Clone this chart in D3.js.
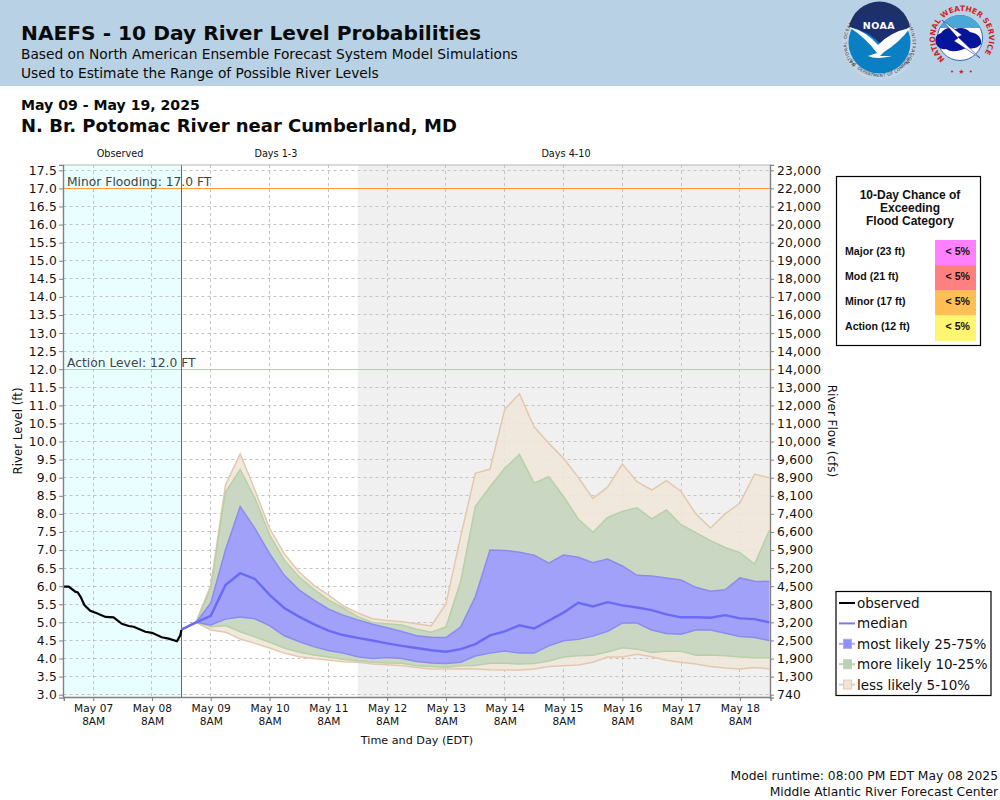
<!DOCTYPE html>
<html><head><meta charset="utf-8">
<script src="https://cdnjs.cloudflare.com/ajax/libs/d3/7.8.5/d3.min.js"></script>
<style>
html,body{margin:0;padding:0;background:#fff}
svg{display:block}
text{font-family:"DejaVu Sans",sans-serif}
.tbl text{font-family:"Liberation Sans",Arial,sans-serif;font-weight:bold;fill:#111}
</style></head><body><svg id="c" width="1000" height="800"></svg>
<script>
// ---- data (river level in ft) ----
const obsHours = [0,2,4.7,5.7,7,8.4,10.8,13.5,17,20.3,23.7,26.5,28.5,33.3,36,40,42.8,46.2,47.6,48];
const observed = [5.99,5.99,5.85,5.83,5.69,5.48,5.32,5.25,5.15,5.14,4.96,4.90,4.88,4.74,4.71,4.59,4.55,4.48,4.65,4.79];
// forecast values are six hours apart, starting at the last observation
const q95 = [4.8,5.0,6.03,8.8,9.66,8.66,7.6,6.9,6.4,6.03,5.76,5.46,5.26,5.1,5.05,5.02,4.96,4.9,5.51,7.37,9.12,9.24,10.89,11.32,10.41,9.95,9.54,9.01,8.43,8.74,9.38,8.89,8.66,8.92,8.62,8.0,7.61,8.0,8.3,9.1,9.0];
const q90 = [4.8,5.0,5.95,8.6,9.23,8.44,7.42,6.72,6.26,5.92,5.62,5.4,5.16,5.0,4.96,4.93,4.81,4.73,4.87,6.13,8.2,8.75,9.26,9.64,8.85,9.03,8.48,7.86,7.49,7.9,8.07,8.17,7.86,8.11,7.7,7.48,7.26,7.07,6.93,6.61,7.54];
const q75 = [4.8,5.0,5.54,7.0,8.2,7.6,6.9,6.3,5.9,5.62,5.37,5.2,5.07,4.95,4.85,4.75,4.63,4.59,4.58,4.87,5.71,7.0,6.99,6.94,6.86,6.64,6.86,6.8,6.65,6.75,6.56,6.3,6.28,6.23,6.17,5.97,5.86,5.9,6.23,6.14,6.13];
const median = [4.8,5.0,5.18,6.03,6.36,6.2,5.76,5.4,5.16,4.95,4.77,4.65,4.57,4.5,4.42,4.35,4.29,4.23,4.19,4.26,4.4,4.64,4.75,4.92,4.83,5.05,5.27,5.54,5.44,5.56,5.47,5.41,5.34,5.22,5.14,5.14,5.13,5.2,5.11,5.09,5.0];
const q25 = [4.8,5.0,4.93,5.09,5.15,5.1,4.91,4.63,4.47,4.33,4.22,4.15,4.05,4.0,4.03,4.0,3.92,3.88,3.86,3.9,4.07,4.15,4.21,4.15,4.15,4.35,4.49,4.53,4.62,4.75,4.98,4.98,4.79,4.69,4.67,4.79,4.79,4.7,4.61,4.58,4.5];
const q10 = [4.8,5.0,4.88,4.91,4.74,4.6,4.45,4.29,4.18,4.1,4.04,3.98,3.94,3.9,3.88,3.87,3.8,3.78,3.76,3.8,3.81,3.87,3.87,3.85,3.86,3.93,4.04,4.08,4.09,4.18,4.3,4.26,4.17,4.2,4.2,4.09,4.1,4.08,4.04,4.02,4.02];
const q05 = [4.8,5.0,4.79,4.73,4.54,4.42,4.29,4.15,4.05,4.0,3.96,3.91,3.9,3.85,3.83,3.8,3.75,3.71,3.71,3.72,3.71,3.69,3.68,3.68,3.71,3.78,3.8,3.82,3.9,4.04,4.04,4.12,4.05,3.95,3.9,3.85,3.78,3.74,3.71,3.75,3.72];
const levelTicks = [17.5,17,16.5,16,15.5,15,14.5,14,13.5,13,12.5,12,11.5,11,10.5,10,9.5,9,8.5,8,7.5,7,6.5,6,5.5,5,4.5,4,3.5,3];
const flowTicks = ["23,000","22,000","21,000","20,000","20,000","19,000","18,000","17,000","16,000","15,000","14,000","14,000","13,000","12,000","11,000","10,000","9,600","8,900","8,100","7,400","6,600","5,900","5,200","4,500","3,800","3,200","2,500","1,900","1,300","740"];
const dayTicks = ["May 07","May 08","May 09","May 10","May 11","May 12","May 13","May 14","May 15","May 16","May 17","May 18"];
const thresholds = [{v:17,label:"Minor Flooding: 17.0 FT",color:"#fb9a3c"},{v:12,label:"Action Level: 12.0 FT",color:"#f2c53d"}];
const floodCats = ["Major (23 ft)","Mod (21 ft)","Minor (17 ft)","Action (12 ft)"];
const floodChance = ["< 5%","< 5%","< 5%","< 5%"];
const floodColors = ["#ff80ff","#ff8080","#ffbf55","#fff570"];
const periods = ["Observed","Days 1-3","Days 4-10"];

// ---- scales ----
const H = 3600e3;
const t0 = Date.UTC(2025,4,6,20);          // May 6 8PM
const tNow = Date.UTC(2025,4,8,20);        // May 8 8PM
const tDay3 = Date.UTC(2025,4,11,20);      // May 11 8PM
const tEnd = Date.UTC(2025,4,18,20,30);
const x = d3.scaleUtc().domain([t0,tEnd]).range([63.8,770.5]);
const y = d3.scaleLinear().domain([2.92,17.65]).range([697.6,164.9]);
const fT = i => tNow + i*6*H;
const snap = v => Math.round(v-.5)+.5;
const svg = d3.select("#c");

// ---- header ----
svg.append("rect").attr("width",1000).attr("height",86).attr("fill","#b9d1e4");
const hdr = [
 ["NAEFS - 10 Day River Level Probabilities",21,40,20.2,"bold"],
 ["Based on North American Ensemble Forecast System Model Simulations",21,59,13.76,"normal"],
 ["Used to Estimate the Range of Possible River Levels",21,78,13.76,"normal"],
 ["May 09 - May 19, 2025",21,110,14.1,"bold"],
 ["N. Br. Potomac River near Cumberland, MD",21,132,18,"bold"]];
hdr.forEach(d=>svg.append("text").attr("x",d[1]).attr("y",d[2]).attr("font-size",d[3]).attr("font-weight",d[4]).attr("fill","#0a0a0a").text(d[0]));

// NOAA logo
const defs = svg.append("defs");
defs.append("path").attr("id","noaaRing").attr("d","M 879.5 75.5 A 33 33 0 1 1 879.6 75.5");
defs.append("path").attr("id","noaaRingB").attr("d","M 845 42.5 A 34.5 34.5 0 0 0 914 42.5");
defs.append("path").attr("id","nwsTop").attr("d","M 945 59 A 27 27 0 1 1 979 59");
const noaa = svg.append("g");
noaa.append("circle").attr("cx",879.5).attr("cy",42.5).attr("r",37.5).attr("fill","#c4d6e6");
noaa.append("circle").attr("cx",879.5).attr("cy",42.5).attr("r",31).attr("fill","#0a7fc4");
noaa.append("path").attr("d","M 849 27 A 31 31 0 0 1 910 27 Q 896 32 884 47 Q 868 30 849 27 Z").attr("fill","#1c2f6e");
noaa.append("path").attr("d","M 849 27 Q 866 31 878 45 Q 890 32 910 28 Q 900 42 884 52 L 880 56 L 892 56 Q 876 60 868 56 L 877 53 Q 866 38 849 27 Z").attr("fill","#fff");
noaa.append("text").attr("x",879).attr("y",28.5).attr("text-anchor","middle").attr("font-size",9.5).attr("font-weight","bold").attr("fill","#fff").attr("letter-spacing",0.5).text("NOAA");
noaa.append("text").attr("font-size",4.4).attr("fill","#333").attr("letter-spacing",0.5).append("textPath").attr("href","#noaaRing").attr("startOffset","13%").text("NATIONAL OCEANIC AND ATMOSPHERIC ADMINISTRATION");
noaa.append("text").attr("font-size",4.2).attr("fill","#333").attr("letter-spacing",0.3).append("textPath").attr("href","#noaaRingB").attr("startOffset","17%").text("U.S. DEPARTMENT OF COMMERCE");
// NWS logo
const nws = svg.append("g");
nws.append("circle").attr("cx",960).attr("cy",38).attr("r",22.5).attr("fill","#fff").attr("stroke","#2a6fb0");
nws.append("path").attr("d","M 940 28 A 22 22 0 0 1 980 28 Z").attr("fill","#4aa8d8");
nws.append("path").attr("d","M 936 44 Q 933 36 941 33 Q 946 26 955 29 Q 964 26 970 32 Q 982 34 981 44 Q 976 50 966 48 Q 953 54 946 49 Q 939 50 936 44 Z").attr("fill","#06149a");
nws.append("path").attr("d","M 942 20 L 962 35 L 958 37 L 980 58 L 954 41 L 958 38 Z").attr("fill","#fff").attr("stroke","#06149a").attr("stroke-width",0.5);
nws.append("text").attr("font-size",7.5).attr("font-family","'Liberation Sans'").attr("font-weight","bold").attr("fill","#d11f25").append("textPath").attr("href","#nwsTop").text("NATIONAL WEATHER SERVICE");
nws.append("text").attr("x",962).attr("y",74).attr("text-anchor","middle").attr("font-size",7).attr("fill","#d11f25").attr("letter-spacing",1).text("• ★ •");

// ---- plot background ----
const yTop = 165, yBot = 697.5;
const xL = snap(x(t0)), xR = snap(x(tEnd));
svg.append("rect").attr("x",xL).attr("y",yTop).attr("width",snap(x(tNow))-xL).attr("height",yBot-yTop).attr("fill","#e9ffff");
svg.append("rect").attr("x",Math.ceil(x(tDay3))).attr("y",yTop).attr("width",xR-Math.ceil(x(tDay3))).attr("height",yBot-yTop).attr("fill","#f0f0f0");
const periodX = [120,276,566];
periods.forEach((p,i)=>svg.append("text").attr("x",periodX[i]).attr("y",157).attr("text-anchor","middle").attr("font-size",9.7).attr("fill","#111").text(p));

// ---- axes and grid ----
const dayTimes = dayTicks.map((d,i)=>Date.UTC(2025,4,7+i,8));
const gridG = svg.append("g").attr("stroke","#c4c4c4").attr("stroke-dasharray","3,3").attr("stroke-width",1);
levelTicks.forEach(v=>gridG.append("line").attr("x1",xL).attr("x2",xR).attr("y1",snap(y(v))).attr("y2",snap(y(v))));
dayTimes.forEach(t=>gridG.append("line").attr("x1",snap(x(t))).attr("x2",snap(x(t))).attr("y1",yTop).attr("y2",yBot));

const leftAxis = d3.axisLeft(y).tickValues(levelTicks).tickFormat(d3.format(".1f")).tickSize(4).tickPadding(2);
const rightAxis = d3.axisRight(y).tickValues(levelTicks).tickFormat((d,i)=>flowTicks[i]).tickSize(4).tickPadding(3);
const bottomAxis = d3.axisBottom(x).tickValues(dayTimes).tickFormat((d,i)=>dayTicks[i]).tickSize(4).tickPadding(3);

// ---- probability bands ----
const area = (lo,hi)=>d3.area().x((d,i)=>x(fT(i))).y0((d,i)=>y(lo[i])).y1((d,i)=>y(hi[i]));
const line = vals=>d3.line().x((d,i)=>x(fT(i))).y((d,i)=>y(vals[i]));
const bands = [
 {lo:q05,hi:q95,fill:"#efe6da",stroke:"#e2c9ad",op:.88},
 {lo:q10,hi:q90,fill:"#c8d6c1",stroke:"#b7d0a8",op:.97},
 {lo:q25,hi:q75,fill:"#9f9ffb",stroke:"#8b8bf2",op:.97}];
bands.forEach(b=>{
  svg.append("path").datum(median).attr("d",area(b.lo,b.hi)).attr("fill",b.fill).attr("fill-opacity",b.op);
  svg.append("path").datum(median).attr("d",line(b.lo)).attr("fill","none").attr("stroke",b.stroke).attr("stroke-width",1.5);
  svg.append("path").datum(median).attr("d",line(b.hi)).attr("fill","none").attr("stroke",b.stroke).attr("stroke-width",1.5);
});

// ---- threshold lines ----
thresholds.forEach(t=>{
  svg.append("line").attr("x1",xL).attr("x2",xR).attr("y1",snap(y(t.v))).attr("y2",snap(y(t.v))).attr("stroke",t.color).attr("stroke-width",1);
  svg.append("text").attr("x",67).attr("y",snap(y(t.v))-2.5).attr("font-size",12.3).attr("fill","#444").text(t.label);
});
// now line
svg.append("line").attr("x1",snap(x(tNow))).attr("x2",snap(x(tNow))).attr("y1",yTop).attr("y2",yBot).attr("stroke","#d43a3a").attr("stroke-width",1);
// median + observed
svg.append("path").datum(median).attr("d",line(median)).attr("fill","none").attr("stroke","#6a6af6").attr("stroke-width",2.4);
svg.append("path").datum(observed).attr("d",d3.line().x((d,i)=>x(t0+obsHours[i]*H)).y(d=>y(d))).attr("fill","none").attr("stroke","#000").attr("stroke-width",2.2);

// frame + axes
svg.append("rect").attr("x",xL).attr("y",yTop).attr("width",xR-xL).attr("height",yBot-yTop).attr("fill","none").attr("stroke","#b5b5b5").attr("stroke-width",1);
function styleAxis(g,size){
  g.selectAll("path").attr("stroke","#808080").attr("stroke-width",1.4);
  g.selectAll("line").attr("stroke","#808080");
  g.selectAll("text").attr("font-family","'DejaVu Sans'").attr("font-size",size).attr("fill","#111").attr("letter-spacing",0.2);
}
svg.append("g").attr("transform",`translate(${xL-.5},0)`).call(leftAxis).call(styleAxis,12.3);
svg.append("g").attr("transform",`translate(${xR-.5},0)`).call(rightAxis).call(styleAxis,12.3);
const bx = svg.append("g").attr("transform",`translate(0,${yBot-.5})`).call(bottomAxis).call(styleAxis,10.6);
bx.selectAll("text").attr("letter-spacing",0.1).each(function(){
  d3.select(this.parentNode).append("text").attr("x",0).attr("y",20.5).attr("dy","0.71em").attr("text-anchor","middle").attr("font-size",10.6).attr("fill","#111").text("8AM");
});

// axis titles
svg.append("text").attr("transform","translate(22,431) rotate(-90)").attr("text-anchor","middle").attr("font-size",11.8).attr("fill","#111").text("River Level (ft)");
svg.append("text").attr("transform","translate(828,431) rotate(90)").attr("text-anchor","middle").attr("font-size",12).attr("fill","#111").text("River Flow (cfs)");
svg.append("text").attr("x",417).attr("y",744).attr("text-anchor","middle").attr("font-size",11.2).attr("fill","#111").text("Time and Day (EDT)");

// ---- flood table ----
const tb = svg.append("g").attr("class","tbl");
tb.append("rect").attr("x",836.5).attr("y",176.5).attr("width",144).attr("height",169).attr("fill","#fff").attr("stroke","#000").attr("stroke-width",1.2);
["10-Day Chance of","Exceeding","Flood Category"].forEach((s,i)=>tb.append("text").attr("x",910).attr("y",199+i*13).attr("text-anchor","middle").attr("font-size",12).text(s));
floodCats.forEach((c,i)=>{
  const ry = 240+i*25.1;
  tb.append("rect").attr("x",935).attr("y",ry).attr("width",41).attr("height",25.6).attr("fill",floodColors[i]);
  tb.append("text").attr("x",845).attr("y",ry+14.5).attr("font-size",10.6).text(c);
  tb.append("text").attr("x",970).attr("y",ry+14.5).attr("text-anchor","end").attr("font-size",10.6).text(floodChance[i]);
});

// ---- legend ----
const lg = svg.append("g");
lg.append("rect").attr("x",836).attr("y",591.5).attr("width",155).attr("height",104).attr("fill","#fff").attr("stroke","#000").attr("stroke-width",1.2);
const legendRows = [
 {label:"observed",stroke:"#000",sw:2},
 {label:"median",stroke:"#7a7af6",sw:2},
 {label:"most likely 25-75%",stroke:"#a9a9f9",sw:2,box:"#8f8ff8"},
 {label:"more likely 10-25%",stroke:"#bcd4b0",sw:2,box:"#bad0b2"},
 {label:"less likely 5-10%",stroke:"#e4cdb2",sw:2,box:"#efe4d6"}];
legendRows.forEach((r,i)=>{
  const ly = 603+i*20.4;
  lg.append("line").attr("x1",839).attr("x2",855).attr("y1",ly).attr("y2",ly).attr("stroke",r.stroke).attr("stroke-width",r.sw);
  if(r.box) lg.append("rect").attr("x",843.5).attr("y",ly-4.5).attr("width",8).attr("height",9).attr("fill",r.box).attr("stroke",r.stroke);
  lg.append("text").attr("x",857).attr("y",ly+5).attr("font-size",13.5).attr("fill","#111").text(r.label);
});

// ---- footer ----
svg.append("text").attr("x",998).attr("y",780).attr("text-anchor","end").attr("font-size",12.3).attr("fill","#111").text("Model runtime: 08:00 PM EDT May 08 2025");
svg.append("text").attr("x",998).attr("y",796).attr("text-anchor","end").attr("font-size",12.3).attr("fill","#111").text("Middle Atlantic River Forecast Center");
</script></body></html>
